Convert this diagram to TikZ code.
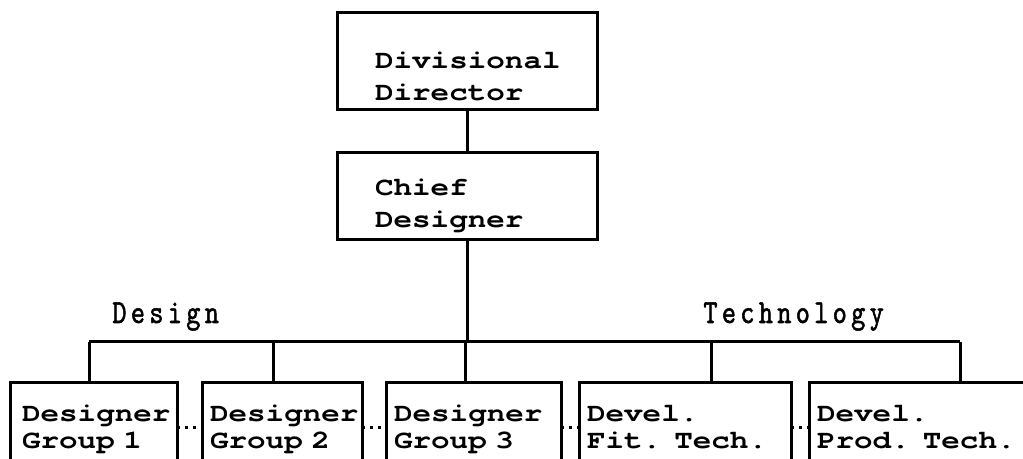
\documentclass[tikz,border=0pt]{standalone}
\usepackage{fontspec}
\usetikzlibrary{positioning}
\newfontfamily\boxfont[FakeStretch=1.19]{texgyrecursor-bold.otf}
\newfontfamily\headfont[LetterSpace=13, FakeStretch=0.8, FakeBold=1.5]{lmmono10-regular.otf}
\tikzset{
  box/.style={
    draw, line width=1.5pt, outer sep=0pt, inner ysep=0pt, align=left,
    font=\boxfont\fontsize{13}{16}\selectfont,
  },
  topbox/.style ={box, inner xsep=19pt, text width=92pt},
  unitbox/.style={box, inner xsep=4pt, text height=19.5pt, text depth=25.5pt,
                  font=\boxfont\fontsize{13}{13.5}\selectfont},
  wire/.style   ={line width=1.5pt},
  linkdots/.style={line width=1.5pt, dash pattern=on 1.5pt off 2.5pt},
  head/.style   ={font=\headfont\fontsize{16.8}{19}\selectfont,
                  inner sep=0pt, anchor=base west},
}

\begin{document}
\begin{tikzpicture}[x=0.5pt, y=-0.5pt]
\useasboundingbox (0,0) rectangle (1023,459);
\clip (0,0) rectangle (1023,459);

% ---------------------------------------------------------------- management
\node[topbox, anchor=north west, text height=28pt, text depth=20.5pt] (dir) at (337,13)
  {Divisional\\Director};
\node[topbox, below=21.5pt of dir, text height=21.5pt, text depth=22pt] (chief)
  {Chief\\Designer};

% ---------------------------------------------------------------- groups
\node[unitbox, anchor=north west, inner xsep=6pt, text width=71.5pt] (grp1) at (10,383)
  {Designer\\Group 1};
\node[unitbox, right=12.5pt of grp1, text width=72pt]  (grp2) {Designer\\Group 2};
\node[unitbox, right=12pt of grp2, text width=79.5pt]  (grp3) {Designer\\Group 3};
\node[unitbox, right=9pt of grp3, text width=98pt]     (fit)  {Devel.\\Fit. Tech.};
\node[unitbox, right=9pt of fit, text width=112pt]     (prod) {Devel.\\Prod. Tech.};

\node[head] (design) at (112,323) {Design};
\node[head] (techn)  at (703,323) {Technology};

% ---------------------------------------------------------------- wiring
\coordinate (d1) at (89,342);
\coordinate (d2) at (273,342);
\coordinate (d3) at (465,342);
\coordinate (d4) at (711,342);
\coordinate (d5) at (960,342);

\draw[wire] (dir) -- (chief);
\draw[wire] (chief.south) -- (chief.south |- d3);
\draw[wire] (d1) -- (d5);
\draw[wire] (d1) -- (d1 |- grp1.north);
\draw[wire] (d2) -- (d2 |- grp2.north);
\draw[wire] (d3) -- (d3 |- grp3.north);
\draw[wire] (d4) -- (d4 |- fit.north);
\draw[wire] (d5) -- (d5 |- prod.north);

\draw[linkdots] (grp1.east) -- (grp2.west);
\draw[linkdots] (grp2.east) -- (grp3.west);
\draw[linkdots] (grp3.east) -- (fit.west);
\draw[linkdots] (fit.east)  -- (prod.west);

\end{tikzpicture}
\end{document}
